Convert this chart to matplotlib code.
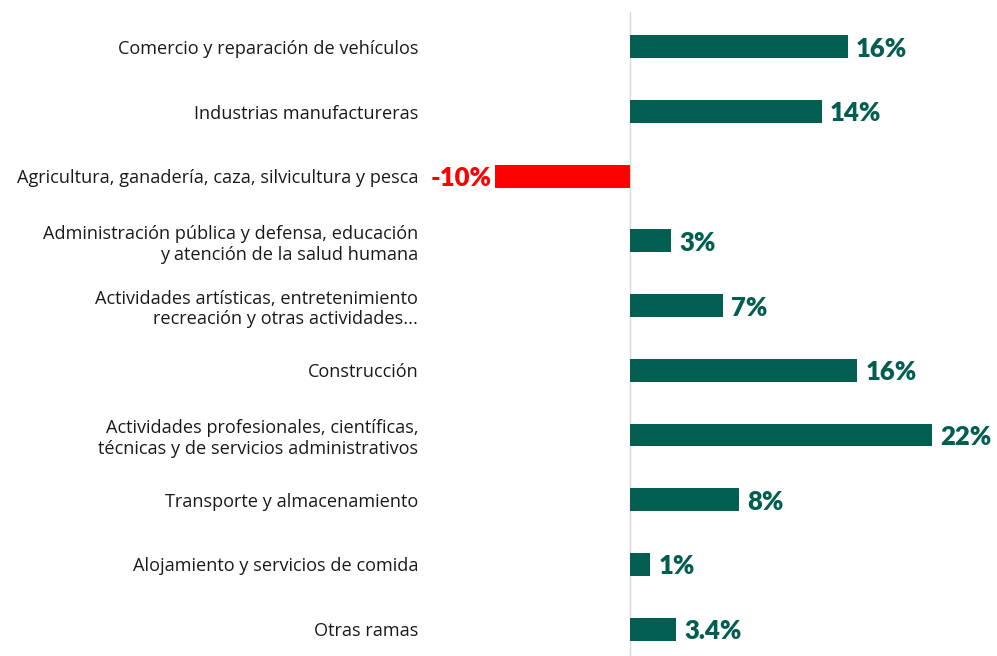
import matplotlib
matplotlib.use("Agg")
import matplotlib.pyplot as plt

# Sector labels (top to bottom) and growth values in %
categories = [
    "Comercio y reparación de vehículos",
    "Industrias manufactureras",
    "Agricultura, ganadería, caza, silvicultura y pesca",
    "Administración pública y defensa, educación\ny atención de la salud humana",
    "Actividades artísticas, entretenimiento\nrecreación y otras actividades...",
    "Construcción",
    "Actividades profesionales, científicas,\ntécnicas y de servicios administrativos",
    "Transporte y almacenamiento",
    "Alojamiento y servicios de comida",
    "Otras ramas",
]
values = [15.9, 14.0, -9.8, 3.0, 6.8, 16.6, 22.1, 8.0, 1.5, 3.4]
value_labels = ["16%", "14%", "-10%", "3%", "7%", "16%", "22%", "8%", "1%", "3.4%"]

GREEN = "#025e51"
RED = "#ff0000"

W, H = 997, 656
fig = plt.figure(figsize=(W / 100, H / 100), dpi=100)
# axes placed in pixel terms: left edge 430 px, top 12 px, to the bottom/right edge
ax = fig.add_axes([430 / W, 0, (W - 430) / W, (H - 12) / H])

ypos = list(range(len(values)))
colors = [RED if v < 0 else GREEN for v in values]
ax.barh(ypos, values, height=0.355, color=colors)

ax.axvline(0, color="#d9d9d9", lw=1, zorder=0)

for y, v, lab, c in zip(ypos, values, value_labels, colors):
    if v >= 0:
        ax.text(v + 0.6, y + 0.03, lab, ha="left", va="center", color=c,
                fontsize=18.5, fontweight="heavy", family="Lato", clip_on=False)
    else:
        ax.text(v - 0.25, y + 0.03, lab, ha="right", va="center", color=c,
                fontsize=18.5, fontweight="heavy", family="Lato", clip_on=False)

ax.set_xlim(-14.58, 26.81)
ax.set_ylim(9.416, -0.538)
ax.set_yticks(ypos)
ax.set_yticklabels(categories, fontsize=13.1, family="Open Sans", color="#1a1a1a",
                   linespacing=1.2)
ax.tick_params(axis="y", length=0, pad=8.5)
ax.set_xticks([])
for s in ax.spines.values():
    s.set_visible(False)

fig.savefig("out.png", dpi=100)
